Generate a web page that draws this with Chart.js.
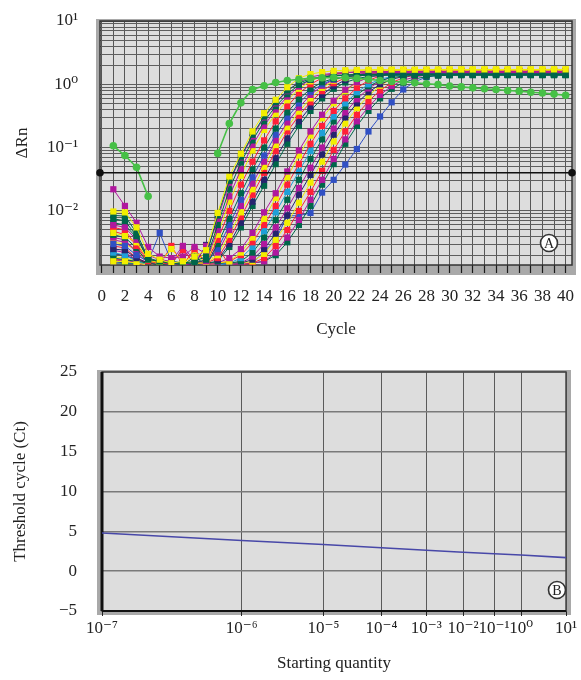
<!DOCTYPE html>
<html>
<head>
<meta charset="utf-8">
<script src="https://cdn.jsdelivr.net/npm/chart.js@4.4.1/dist/chart.umd.min.js"></script>
<style>
  html, body { margin: 0; padding: 0; background: #ffffff; }
  #wrap { position: relative; width: 581px; height: 680px; overflow: hidden; }
  canvas { position: absolute; left: 0; }
</style>
</head>
<body>
<div id="wrap">
  <canvas id="chartA" width="581" height="345" style="top:0px"></canvas>
  <canvas id="chartB" width="581" height="335" style="top:345px"></canvas>
</div>
<script>
// ---------------- Panel A data (ΔRn vs cycle) ----------------
const cycles = [1,2,3,4,5,6,7,8,9,10,11,12,13,14,15,16,17,18,19,20,21,22,23,24,25,26,27,28,29,30,31,32,33,34,35,36,37,38,39,40];
const cycleTicks = [0,1,2,3,4,5,6,7,8,9,10,11,12,13,14,15,16,17,18,19,20,21,22,23,24,25,26,27,28,29,30,31,32,33,34,35,36,37,38,39,40];
const thresholdValue = 0.04;
const deltaRnDecades = [0.01, 0.1, 1, 10];
const deltaRnLabels = ['10⁻²', '10⁻¹', '10⁰', '10¹'];

const lightGreen = [0.107,0.075,0.049,0.017,null,null,null,null,null,0.081,0.24,0.51,0.83,0.95,1.07,1.15,1.2,1.24,1.27,1.28,1.27,1.24,1.2,1.15,1.11,1.1,1.06,1.02,0.99,0.94,0.91,0.88,0.85,0.83,0.8,0.78,0.75,0.73,0.7,0.67];
const yellow1 = [0.0098,0.0095,0.0055,0.0021,0.0017,0.0015,0.0016,0.0019,0.0024,0.0093,0.035,0.08,0.18,0.35,0.57,0.9,1.25,1.45,1.56,1.63,1.67,1.69,1.70,1.70,1.71,1.71,1.70,1.71,1.71,1.72,1.71,1.71,1.72,1.71,1.72,1.72,1.71,1.72,1.72,1.72];
const green1 = [0.0085,0.0083,0.0045,0.0018,0.0016,0.0015,0.0015,0.0016,0.0019,0.0085,0.03,0.072,0.16,0.31,0.52,0.8,1.05,1.22,1.32,1.38,1.41,1.43,1.44,1.44,1.45,1.45,1.45,1.45,1.46,1.45,1.46,1.46,1.46,1.46,1.46,1.46,1.46,1.46,1.46,1.46];
const magenta1 = [0.022,0.012,0.0065,0.0027,0.0019,0.0018,0.0019,0.0027,0.0021,0.0075,0.028,0.07,0.15,0.3,0.5,0.78,1.08,1.3,1.42,1.5,1.53,1.55,1.56,1.56,1.57,1.57,1.57,1.57,1.58,1.58,1.58,1.58,1.58,1.58,1.58,1.58,1.58,1.58,1.58,1.58];
const green2 = [0.0075,0.007,0.004,0.0017,0.0016,0.0015,0.0015,0.0015,0.0017,0.006,0.022,0.058,0.13,0.26,0.45,0.7,0.98,1.18,1.3,1.36,1.39,1.41,1.42,1.42,1.42,1.43,1.43,1.43,1.43,1.43,1.43,1.43,1.43,1.43,1.43,1.43,1.43,1.43,1.43,1.43];
const magenta2 = [0.006,0.0055,0.0035,0.002,0.0017,0.0016,0.0028,0.0016,0.0016,0.005,0.017,0.045,0.11,0.22,0.4,0.64,0.92,1.18,1.36,1.47,1.53,1.56,1.58,1.58,1.59,1.59,1.6,1.6,1.6,1.6,1.6,1.6,1.6,1.6,1.6,1.6,1.6,1.6,1.6,1.6];
const yellow2 = [0.0045,0.004,0.0032,0.0017,0.0015,0.0025,0.0016,0.0015,0.0015,0.0042,0.014,0.036,0.09,0.19,0.34,0.56,0.85,1.12,1.35,1.5,1.6,1.65,1.67,1.68,1.68,1.69,1.69,1.69,1.69,1.69,1.7,1.7,1.7,1.7,1.7,1.7,1.7,1.7,1.7,1.7];
const red1 = [0.0055,0.005,0.0028,0.0016,0.0015,0.0015,0.0024,0.0015,0.0015,0.0035,0.01,0.026,0.06,0.13,0.26,0.45,0.72,1.0,1.26,1.42,1.52,1.57,1.59,1.6,1.6,1.61,1.61,1.61,1.61,1.61,1.61,1.61,1.61,1.61,1.61,1.61,1.61,1.61,1.61,1.61];
const green3 = [0.0042,0.0038,0.0026,0.0015,0.0014,0.0015,0.0014,0.0019,0.0014,0.003,0.0075,0.019,0.045,0.1,0.2,0.36,0.58,0.85,1.08,1.23,1.32,1.37,1.39,1.4,1.4,1.41,1.41,1.41,1.41,1.41,1.41,1.41,1.41,1.41,1.41,1.41,1.41,1.41,1.41,1.41];
const blue1 = [0.003,0.0028,0.002,0.0016,0.0045,0.0016,0.0015,0.0015,0.0015,0.0025,0.006,0.015,0.034,0.075,0.16,0.3,0.5,0.76,1.0,1.2,1.32,1.39,1.43,1.44,1.45,1.45,1.45,1.46,1.46,1.46,1.46,1.46,1.46,1.46,1.46,1.46,1.46,1.46,1.46,1.46];
const magenta3 = [0.0038,0.0035,0.0022,0.0015,0.0014,0.0015,0.0014,0.0015,0.0028,0.0022,0.005,0.012,0.027,0.06,0.13,0.25,0.43,0.68,0.95,1.18,1.35,1.45,1.5,1.53,1.54,1.55,1.55,1.55,1.55,1.56,1.56,1.56,1.56,1.56,1.56,1.56,1.56,1.56,1.56,1.56];
const yellow3 = [0.0032,0.003,0.0024,0.0016,0.0015,0.0015,0.0015,0.0015,0.0015,0.002,0.0042,0.0095,0.022,0.05,0.11,0.21,0.37,0.6,0.88,1.14,1.36,1.5,1.58,1.63,1.65,1.66,1.67,1.67,1.67,1.67,1.68,1.68,1.68,1.68,1.68,1.68,1.68,1.68,1.68,1.68];
const red2 = [0.0048,0.0042,0.003,0.0017,0.0016,0.0015,0.0014,0.0025,0.0015,0.0018,0.0035,0.008,0.018,0.04,0.088,0.18,0.32,0.52,0.78,1.04,1.26,1.4,1.48,1.52,1.54,1.55,1.55,1.55,1.56,1.56,1.56,1.56,1.56,1.56,1.56,1.56,1.56,1.56,1.56,1.56];
const navy1 = [0.0025,0.0024,0.0018,0.0015,0.0014,0.0015,0.0014,0.0014,0.0029,0.0017,0.003,0.0065,0.014,0.031,0.068,0.14,0.26,0.44,0.68,0.94,1.17,1.33,1.43,1.47,1.49,1.5,1.5,1.5,1.5,1.51,1.51,1.51,1.51,1.51,1.51,1.51,1.51,1.51,1.51,1.51];
const green4 = [0.0065,0.006,0.0038,0.0017,0.0015,0.0016,0.0015,0.0014,0.0015,0.0016,0.0027,0.0055,0.012,0.025,0.055,0.115,0.22,0.38,0.6,0.85,1.07,1.23,1.33,1.38,1.4,1.41,1.42,1.42,1.42,1.42,1.42,1.42,1.42,1.42,1.42,1.42,1.42,1.42,1.42,1.42];
const magenta4 = [0.0035,0.0032,0.0024,0.0016,0.0015,0.0014,0.0015,0.0014,0.0014,0.0015,0.0018,0.0025,0.0045,0.0095,0.019,0.042,0.09,0.18,0.33,0.55,0.82,1.08,1.28,1.4,1.46,1.48,1.49,1.5,1.5,1.5,1.5,1.5,1.5,1.5,1.5,1.5,1.5,1.5,1.5,1.5];
const yellow4 = [0.0016,0.0016,0.0015,0.0014,0.0015,0.0014,0.0014,0.0024,0.0014,0.0015,0.0016,0.0022,0.0038,0.0075,0.016,0.034,0.075,0.155,0.29,0.5,0.78,1.08,1.35,1.52,1.62,1.66,1.68,1.69,1.69,1.69,1.7,1.7,1.7,1.7,1.7,1.7,1.7,1.7,1.7,1.7];
const red3 = [0.0028,0.0026,0.0018,0.0015,0.0014,0.0028,0.0014,0.0014,0.0014,0.0015,0.0016,0.002,0.0032,0.006,0.012,0.026,0.055,0.115,0.22,0.38,0.6,0.88,1.15,1.36,1.49,1.55,1.57,1.58,1.58,1.58,1.59,1.59,1.59,1.59,1.59,1.59,1.59,1.59,1.59,1.59];
const cyan1 = [0.0022,0.002,0.0016,0.0014,0.0014,0.0014,0.0014,0.0014,0.0014,0.0014,0.0015,0.0018,0.0027,0.0048,0.0095,0.02,0.042,0.088,0.17,0.31,0.5,0.75,1.0,1.2,1.33,1.4,1.43,1.44,1.45,1.45,1.45,1.45,1.45,1.45,1.45,1.45,1.45,1.45,1.45,1.45];
const green5 = [0.0018,0.0017,0.0016,0.0015,0.0015,0.0015,0.0015,0.0015,0.0015,0.0015,0.0015,0.0016,0.0022,0.0038,0.0072,0.015,0.031,0.066,0.135,0.26,0.44,0.68,0.93,1.14,1.28,1.35,1.38,1.39,1.4,1.4,1.4,1.4,1.4,1.4,1.4,1.4,1.4,1.4,1.4,1.4];
const magenta5 = [0.0016,0.0017,0.0015,0.0014,0.0014,0.0014,0.0026,0.0014,0.0014,0.0014,0.0014,0.0015,0.0019,0.003,0.0055,0.011,0.023,0.048,0.1,0.2,0.36,0.58,0.86,1.12,1.32,1.45,1.51,1.53,1.54,1.55,1.55,1.55,1.55,1.55,1.55,1.55,1.55,1.55,1.55,1.55];
const navy2 = [0.0021,0.002,0.0017,0.0015,0.0015,0.0015,0.0015,0.0015,0.0015,0.0015,0.0015,0.0015,0.0017,0.0025,0.0044,0.0085,0.018,0.037,0.078,0.16,0.3,0.5,0.75,1.0,1.2,1.33,1.4,1.43,1.44,1.45,1.45,1.45,1.45,1.45,1.45,1.45,1.45,1.45,1.45,1.45];
const yellow5 = [0.0019,0.0018,0.0016,0.0015,0.0015,0.0015,0.0015,0.0015,0.0023,0.0015,0.0015,0.0015,0.0016,0.0021,0.0035,0.0065,0.0135,0.028,0.06,0.125,0.24,0.42,0.66,0.95,1.22,1.42,1.54,1.6,1.62,1.63,1.63,1.63,1.63,1.63,1.63,1.63,1.63,1.63,1.63,1.63];
const red4 = [0.0017,0.0017,0.0015,0.0014,0.0014,0.0014,0.0014,0.0014,0.0014,0.0027,0.0014,0.0014,0.0015,0.0018,0.0028,0.005,0.01,0.02,0.043,0.092,0.18,0.33,0.54,0.8,1.06,1.27,1.4,1.47,1.5,1.51,1.52,1.52,1.52,1.52,1.52,1.52,1.52,1.52,1.52,1.52];
const magenta6 = [0.0024,0.0022,0.0017,0.0015,0.0015,0.0015,0.0015,0.0015,0.0015,0.0015,0.0015,0.0015,0.0015,0.0016,0.0022,0.0038,0.0072,0.015,0.031,0.066,0.135,0.26,0.44,0.68,0.94,1.16,1.31,1.4,1.45,1.47,1.48,1.48,1.48,1.48,1.48,1.48,1.48,1.48,1.48,1.48];
const green6 = [0.0015,0.0015,0.0015,0.0014,0.0014,0.0014,0.0014,0.0014,0.0014,0.0014,0.0014,0.0014,0.0015,0.0016,0.002,0.0032,0.006,0.012,0.026,0.055,0.115,0.22,0.38,0.6,0.85,1.06,1.22,1.32,1.37,1.39,1.4,1.4,1.4,1.4,1.4,1.4,1.4,1.4,1.4,1.4];
const blue2 = [0.0016,0.0015,0.0015,0.0014,0.0014,0.0014,0.0014,0.0014,0.0014,0.0014,0.0014,0.0014,0.0015,0.0023,0.0035,0.0084,0.0084,0.0093,0.0195,0.031,0.054,0.095,0.18,0.31,0.52,0.83,1.1,1.3,1.4,1.43,1.44,1.45,1.45,1.45,1.45,1.45,1.45,1.45,1.45,1.45];

// ---------------- Panel B data (Ct vs starting quantity) ----------------
const quantityTicks = [1, 2, 3, 4, 5, 6, 7, 8, 10];
const quantityLabels = ['10⁻⁷', '10⁻⁶', '10⁻⁵', '10⁻⁴', '10⁻³', '10⁻²', '10⁻¹', '10⁰', '10¹'];
const ctValues = [4.8, 3.85, 3.35, 2.93, 2.62, 2.37, 2.19, 2.03, 1.7];
const ctTicks = [-5, 0, 5, 10, 15, 20, 25];

// ---------------- styling ----------------
const FONT = "'Liberation Serif', 'Times New Roman', 'DejaVu Serif', serif";
Chart.defaults.font.family = FONT;
Chart.defaults.color = '#222222';
Chart.defaults.animation = false;

const COL = {
  yellow: '#f2ee00', green: '#00664a', magenta: '#b0189e', red: '#ff2038',
  navy: '#25256e', blue: '#3050c4', cyan: '#1fa0d8', light: '#46c046'
};

const seriesA = [
  { d: lightGreen, c: COL.light, s: 'circle' },
  { d: yellow1, c: COL.yellow }, { d: green1, c: COL.green }, { d: magenta1, c: COL.magenta },
  { d: green2, c: COL.green }, { d: magenta2, c: COL.magenta }, { d: yellow2, c: COL.yellow },
  { d: red1, c: COL.red }, { d: green3, c: COL.green }, { d: blue1, c: COL.blue },
  { d: magenta3, c: COL.magenta }, { d: yellow3, c: COL.yellow }, { d: red2, c: COL.red },
  { d: navy1, c: COL.navy }, { d: green4, c: COL.green }, { d: magenta4, c: COL.magenta },
  { d: yellow4, c: COL.yellow }, { d: red3, c: COL.red }, { d: cyan1, c: COL.cyan },
  { d: green5, c: COL.green }, { d: magenta5, c: COL.magenta }, { d: navy2, c: COL.navy },
  { d: yellow5, c: COL.yellow }, { d: red4, c: COL.red }, { d: magenta6, c: COL.magenta },
  { d: green6, c: COL.green }, { d: blue2, c: COL.blue }
];

// log grid values (axis gridlines only)
const logGrid = [];
[-3, -2, -1, 0].forEach(e => {
  for (let m = 1; m <= 9; m++) {
    const v = Number((m * Math.pow(10, e)).toPrecision(3));
    if (v >= 0.0014 && v <= 10) logGrid.push(v);
  }
});
logGrid.push(10);

const zeroPad = sc => { sc.paddingTop = 0; sc.paddingBottom = 0; sc.paddingLeft = 0; sc.paddingRight = 0; };

const framePlugin = {
  id: 'frame',
  beforeDraw(chart, args, o) {
    const { ctx, chartArea: a } = chart;
    ctx.save();
    ctx.fillStyle = o.frameColor;
    ctx.fillRect(a.left - o.l, a.top - o.t, a.right - a.left + o.l + o.r, a.bottom - a.top + o.t + o.b);
    ctx.fillStyle = o.bg;
    ctx.fillRect(a.left, a.top, a.right - a.left, a.bottom - a.top);
    ctx.restore();
  },
  beforeDatasetsDraw(chart, args, o) {
    const { ctx, chartArea: a } = chart;
    ctx.save();
    ctx.strokeStyle = o.edge;
    ctx.lineWidth = o.edgeWidth;
    ctx.strokeRect(a.left, a.top, a.right - a.left, a.bottom - a.top);
    if (o.leftWidth) {
      ctx.strokeStyle = '#111';
      ctx.lineWidth = o.leftWidth;
      ctx.beginPath(); ctx.moveTo(a.left, a.top); ctx.lineTo(a.left, a.bottom); ctx.stroke();
      ctx.lineWidth = o.bottomWidth;
      ctx.beginPath(); ctx.moveTo(a.left, a.bottom); ctx.lineTo(a.right, a.bottom); ctx.stroke();
    }
    ctx.restore();
  },
  afterDraw(chart, args, o) {
    const { ctx, chartArea: a } = chart;
    const cx = a.right - o.markDx, cy = a.bottom - o.markDy;
    ctx.save();
    ctx.beginPath();
    ctx.arc(cx, cy, 8.5, 0, Math.PI * 2);
    ctx.fillStyle = '#ffffff';
    ctx.fill();
    ctx.lineWidth = 1.6;
    ctx.strokeStyle = '#333';
    ctx.stroke();
    ctx.fillStyle = '#222';
    ctx.font = '14px ' + FONT;
    ctx.textAlign = 'center';
    ctx.textBaseline = 'middle';
    ctx.fillText(o.mark, cx, cy + 1);
    ctx.restore();
  }
};

// ---------------- Chart A ----------------
const datasetsA = [{
  label: 'Threshold',
  data: [{ x: -0.15, y: thresholdValue }, { x: 40.55, y: thresholdValue }],
  borderColor: '#111', backgroundColor: '#111', borderWidth: 1.6,
  pointRadius: 3, pointStyle: 'circle', clip: false
}];
seriesA.forEach((s, i) => {
  datasetsA.push({
    label: 'Well ' + (i + 1),
    data: cycles.map((c, k) => ({ x: c, y: s.d[k] })),
    borderColor: s.c, backgroundColor: s.c,
    borderWidth: s.s ? 1.6 : 1,
    pointStyle: s.s || 'rect',
    pointRadius: s.s ? 3.8 : 4.4,
    pointBorderWidth: 0,
    spanGaps: false,
    clip: 0
  });
});

new Chart(document.getElementById('chartA'), {
  type: 'line',
  data: { datasets: datasetsA },
  options: {
    responsive: false, devicePixelRatio: 1,
    layout: { padding: { top: 21, right: 9, left: 0, bottom: 0 } },
    plugins: {
      legend: { display: false }, tooltip: { enabled: false },
      frame: { frameColor: '#a9a9a9', bg: '#dddddd', l: 4, t: 2, r: 4, b: 10, edge: '#333', edgeWidth: 1.5, mark: 'A', markDx: 23, markDy: 22 }
    },
    scales: {
      x: {
        type: 'linear', min: -0.15, max: 40.55,
        afterBuildTicks: sc => { sc.ticks = cycleTicks.map(v => ({ value: v })); },
        afterFit: sc => { sc.height = 80; zeroPad(sc); },
        grid: { color: '#565656', lineWidth: 1, drawTicks: true, tickLength: 8, tickColor: '#1a1a1a', tickWidth: 1.2 },
        border: { display: false },
        ticks: { autoSkip: false, maxRotation: 0, padding: 13, font: { size: 17 }, color: '#222',
          callback: v => (v % 2 === 0 ? String(v) : '') },
        title: { display: true, text: 'Cycle', font: { size: 17 }, color: '#222', padding: { top: 0, bottom: 5 } }
      },
      y: {
        type: 'logarithmic', min: 0.0014, max: 10,
        afterBuildTicks: sc => { sc.ticks = logGrid.map(v => ({ value: v })); },
        afterFit: sc => { sc.width = 100; zeroPad(sc); },
        grid: { color: '#5e5e5e', lineWidth: 1, drawTicks: false },
        border: { display: false },
        ticks: { autoSkip: false, padding: 22, font: { size: 17 }, color: '#222',
          callback: v => {
            const i = deltaRnDecades.findIndex(d => Math.abs(d - v) / d < 1e-6);
            return i >= 0 ? deltaRnLabels[i] : '';
          } },
        title: { display: true, text: 'ΔRn', font: { size: 17 }, color: '#222', padding: { top: 12, bottom: 0 } }
      }
    }
  },
  plugins: [framePlugin]
});

// ---------------- Chart B ----------------
new Chart(document.getElementById('chartB'), {
  type: 'line',
  data: {
    datasets: [{
      label: 'Ct',
      data: quantityTicks.map((q, i) => ({ x: q, y: ctValues[i] })),
      borderColor: '#4848a8', backgroundColor: '#4848a8', borderWidth: 1.6,
      pointRadius: 0, tension: 0
    }]
  },
  options: {
    responsive: false, devicePixelRatio: 1,
    layout: { padding: { top: 27, right: 15, left: 0, bottom: 0 } },
    plugins: {
      legend: { display: false }, tooltip: { enabled: false },
      frame: { frameColor: '#a9a9a9', bg: '#dddddd', l: 5, t: 2, r: 5, b: 4, edge: '#444', edgeWidth: 1.5, leftWidth: 3, bottomWidth: 2, mark: 'B', markDx: 9, markDy: 21 }
    },
    scales: {
      x: {
        type: 'logarithmic', min: 1, max: 10,
        afterBuildTicks: sc => { sc.ticks = quantityTicks.map(v => ({ value: v })); },
        afterFit: sc => { sc.height = 69; zeroPad(sc); },
        grid: { color: '#5a5a5a', lineWidth: 1, drawTicks: true, tickLength: 5, tickColor: '#222' },
        border: { display: false },
        ticks: { autoSkip: false, maxRotation: 0, padding: 2, font: { size: 17 }, color: '#222',
          callback: (v, i) => quantityLabels[i] },
        title: { display: true, text: 'Starting quantity', font: { size: 17 }, color: '#222', padding: { top: 0, bottom: 6 } }
      },
      y: {
        type: 'linear', min: -5, max: 25,
        afterBuildTicks: sc => { sc.ticks = ctTicks.map(v => ({ value: v })); },
        afterFit: sc => { sc.width = 102; zeroPad(sc); },
        grid: { color: '#7a7a7a', lineWidth: 1.5, drawTicks: false },
        border: { display: false },
        ticks: { padding: 25, font: { size: 17 }, color: '#222',
          callback: v => String(v).replace('-', '−') },
        title: { display: true, text: 'Threshold cycle (Ct)', font: { size: 17 }, color: '#222', padding: { top: 10, bottom: 0 } }
      }
    }
  },
  plugins: [framePlugin]
});
</script>
</body>
</html>
